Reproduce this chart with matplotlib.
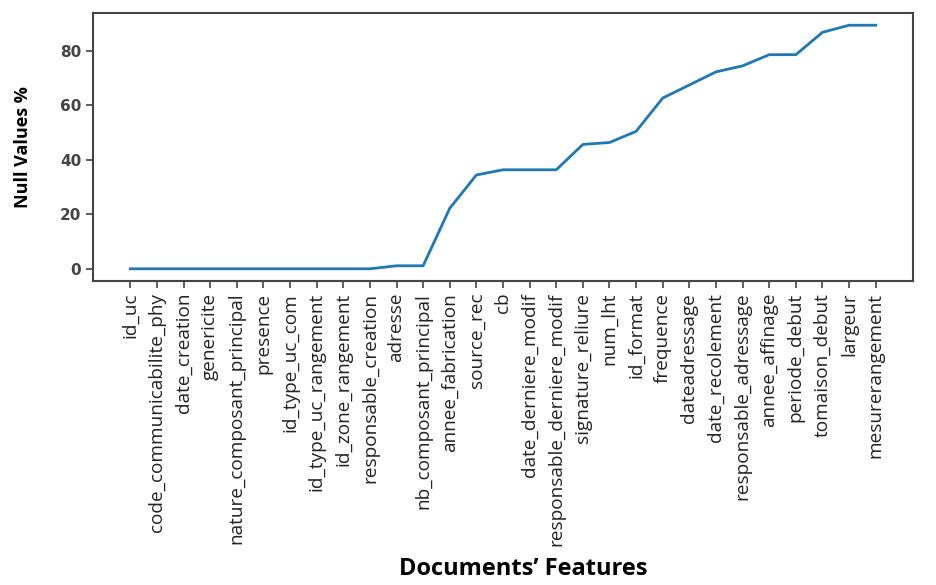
import matplotlib
matplotlib.use("Agg")
import matplotlib.pyplot as plt

features = ["id_uc", "code_communicabilite_phy", "date_creation", "genericite",
            "nature_composant_principal", "presence", "id_type_uc_com",
            "id_type_uc_rangement", "id_zone_rangement", "responsable_creation",
            "adresse", "nb_composant_principal", "annee_fabrication", "source_rec",
            "cb", "date_derniere_modif", "responsable_derniere_modif",
            "signature_reliure", "num_lht", "id_format", "frequence",
            "dateadressage", "date_recolement", "responsable_adressage",
            "annee_affinage", "periode_debut", "tomaison_debut", "largeur",
            "mesurerangement"]
null_pct = [0, 0, 0, 0, 0, 0, 0, 0, 0, 0,
            1.1, 1.1, 22.2, 34.4, 36.3, 36.3, 36.3,
            45.6, 46.3, 50.4, 62.6, 67.4, 72.2, 74.4,
            78.5, 78.5, 86.7, 89.3, 89.3]

fig = plt.figure(figsize=(9.36, 5.85), dpi=100)
ax = fig.add_axes([0.0994, 0.5197, 0.876, 0.458])
ax.plot(range(len(features)), null_pct, color="#1f77b4", lw=2)
ax.set_xticks(range(len(features)))
ax.set_xticklabels(features, rotation=90, fontfamily="Open Sans", fontsize=13.7, color="#222222")
ax.set_yticks([0, 20, 40, 60, 80])
for lab in ax.get_yticklabels():
    lab.set_fontsize(11)
    lab.set_color("#444444")
    lab.set_fontweight("bold")
for s in ax.spines.values():
    s.set_color("#444444")
    s.set_linewidth(1.5)
ax.tick_params(axis="both", length=5, width=1.2, color="#444444")
ax.set_ylabel("Null Values %", fontfamily="Open Sans", fontweight="bold", fontsize=13)
ax.yaxis.set_label_coords(-0.075, 0.5)
ax.set_xlabel("Documents\u2019 Features", fontfamily="Open Sans", fontweight="bold", fontsize=17)
ax.xaxis.set_label_coords(0.525, -1.03)
fig.savefig("out.png", dpi=100)
